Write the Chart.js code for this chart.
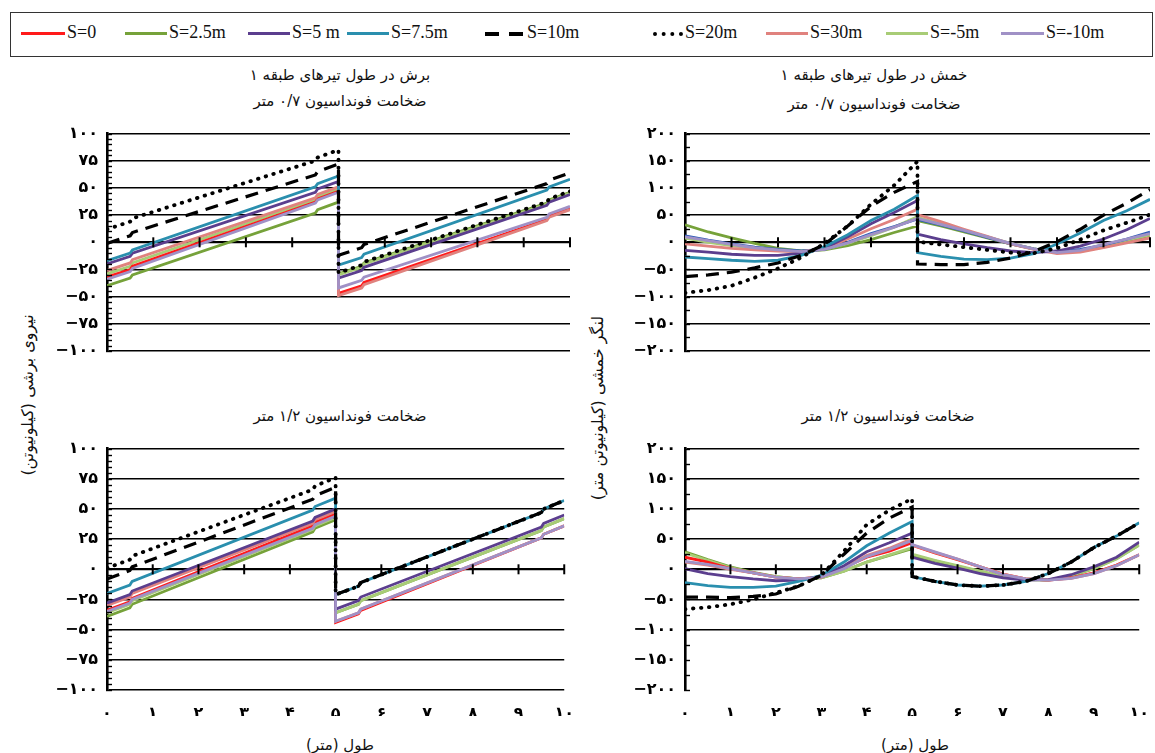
<!DOCTYPE html>
<html>
<head>
<meta charset="utf-8">
<script src="https://cdn.jsdelivr.net/npm/chart.js@4.4.1/dist/chart.umd.min.js"></script>
<style>
  html, body { margin: 0; padding: 0; background: #fff; }
  body { width: 1155px; height: 753px; position: relative; overflow: hidden; }
  canvas { position: absolute; }
  .t { position: absolute; transform: translate(-50%, -50%); white-space: nowrap;
       direction: rtl; font: 15px "DejaVu Sans", sans-serif; color: #111; }
  .rot { transform: translate(-50%, -50%) rotate(-90deg); font-size: 16px; }
  #legend { position: absolute; left: 10px; top: 12px; width: 1141px; height: 43px;
            border: 1.5px solid #333; }
  .lg-line { position: absolute; top: 19px; }
  .lg-text { position: absolute; top: 9px; font: 18px "Liberation Serif", serif; color: #111; }
</style>
</head>
<body>
<div id="legend"></div>

<div class="t" style="left:340px;top:75px">برش در طول تیرهای طبقه ۱</div>
<div class="t" style="left:340px;top:101px">ضخامت فونداسیون ۰/۷ متر</div>
<div class="t" style="left:874px;top:75px">خمش در طول تیرهای طبقه ۱</div>
<div class="t" style="left:874px;top:104px">ضخامت فونداسیون ۰/۷ متر</div>
<div class="t" style="left:340px;top:416px">ضخامت فونداسیون ۱/۲ متر</div>
<div class="t" style="left:888px;top:416px">ضخامت فونداسیون ۱/۲ متر</div>
<div class="t" style="left:340px;top:745px">طول (متر)</div>
<div class="t" style="left:915px;top:745px">طول (متر)</div>
<div class="t rot" style="left:27px;top:395px">نیروی برشی (کیلونیوتن)</div>
<div class="t rot" style="left:597px;top:408px">لنگر خمشی (کیلونیوتن متر)</div>

<canvas id="tl" width="540" height="272" style="left:40px;top:115px"></canvas>
<canvas id="tr" width="535" height="272" style="left:620px;top:115px"></canvas>
<canvas id="bl" width="540" height="290" style="left:40px;top:430px"></canvas>
<canvas id="br" width="535" height="290" style="left:620px;top:430px"></canvas>

<script>
// series (same order in every panel)
const seriesNames = ["S=0", "S=2.5m", "S=5 m", "S=7.5m", "S=10m", "S=20m", "S=30m", "S=-5m", "S=-10m"];

// x positions (m); the beam has a jump at 5 m
const shearX = [0, 0.5, 0.55, 4.5, 4.55, 5, 5, 5.5, 5.55, 9.5, 9.55, 10];
const momentX = [0, 0.5, 1, 1.5, 2, 2.5, 3, 3.5, 4, 4.5, 5, 5, 5.5, 6, 6.5, 7, 7.5, 8, 8.5, 9, 9.5, 10];

const xTickLabels = ["۰", "۱", "۲", "۳", "۴", "۵", "۶", "۷", "۸", "۹", "۱۰"];
const shearTickValues = [-100, -75, -50, -25, 0, 25, 50, 75, 100];
const shearTickText = ["−۱۰۰", "−۷۵", "−۵۰", "−۲۵", "۰", "۲۵", "۵۰", "۷۵", "۱۰۰"];
const momentTickValues = [-200, -150, -100, -50, 0, 50, 100, 150, 200];
const momentTickText = ["−۲۰۰", "−۱۵۰", "−۱۰۰", "−۵۰", "۰", "۵۰", "۱۰۰", "۱۵۰", "۲۰۰"];

// shear force (kN), foundation 0.7 m
const shear07 = [
  [-32, -25, -22, 37, 40, 47, -47, -40, -37, 21, 24, 31],
  [-40, -33, -30, 27, 30, 37, -29, -22, -19, 36, 39, 46],
  [-20, -13, -10, 46, 49, 56, -33, -26, -23, 34, 37, 44],
  [-17, -10, -7, 51, 54, 61, -21, -14, -11, 48, 51, 58],
  [-1, 6, 9, 62, 65, 72, -12, -5, -2, 54, 57, 64],
  [12, 19, 22, 75, 78, 85, -28, -21, -18, 37, 40, 47],
  [-26, -19, -16, 41, 44, 51, -49, -42, -39, 20, 23, 30],
  [-29, -22, -19, 39, 42, 49, -30, -23, -20, 35, 38, 45],
  [-34, -27, -24, 36, 39, 46, -42, -35, -32, 23, 26, 33],
];

// shear force (kN), foundation 1.2 m
const shear12 = [
  [-34, -27, -24, 36, 39, 46, -44, -37, -34, 26, 29, 36],
  [-39, -32, -29, 31, 34, 41, -36, -29, -26, 32, 35, 42],
  [-28, -21, -18, 40, 43, 50, -33, -26, -23, 35, 38, 45],
  [-20, -13, -10, 49, 52, 59, -21, -14, -11, 47, 50, 57],
  [-8, -1, 2, 58, 61, 68, -21, -14, -11, 47, 50, 57],
  [1, 8, 11, 66, 69, 76, -21, -14, -11, 47, 50, 57],
  [-30, -23, -20, 38, 41, 48, -43, -36, -33, 26, 29, 36],
  [-36, -29, -26, 33, 36, 43, -36, -29, -26, 32, 35, 42],
  [-35, -28, -25, 34, 37, 44, -43, -36, -33, 26, 29, 36],
];

// bending moment (kN.m), foundation 0.7 m
const moment07 = [
  [12, 4, -3, -9, -13, -16, -13, 0, 16, 29, 43, 42, 32, 21, 9, -3, -12, -18, -13, -5, 6, 19],
  [32, 19, 8, -2, -11, -16, -14, -6, 5, 18, 30, 40, 30, 19, 8, -3, -12, -19, -16, -9, 1, 13],
  [-15, -18, -22, -24, -24, -20, -11, 10, 34, 55, 77, 15, 5, -3, -10, -16, -19, -16, -7, 6, 23, 44],
  [-27, -30, -33, -35, -33, -24, -8, 14, 40, 61, 86, -19, -26, -31, -32, -29, -21, -3, 17, 40, 58, 79],
  [-63, -60, -55, -47, -38, -24, -4, 30, 66, 92, 112, -40, -41, -41, -37, -29, -17, 1, 24, 50, 72, 97],
  [-93, -88, -80, -65, -48, -28, -2, 30, 70, 105, 149, 1, -4, -9, -14, -19, -20, -11, 5, 22, 36, 51],
  [-3, -7, -11, -14, -16, -17, -12, 6, 25, 42, 61, 51, 38, 24, 11, -3, -13, -21, -18, -10, -1, 8],
  [8, 0, -6, -11, -15, -17, -13, -2, 12, 28, 47, 46, 34, 22, 10, -2, -12, -19, -15, -6, 4, 14],
  [10, 3, -4, -10, -14, -17, -13, -1, 14, 28, 44, 44, 33, 22, 10, -2, -12, -19, -15, -4, 6, 16],
];

// bending moment (kN.m), foundation 1.2 m
const moment12 = [
  [20, 12, 1, -6, -13, -16, -13, 3, 20, 30, 44, 40, 27, 16, 4, -8, -16, -18, -14, -6, 7, 24],
  [29, 16, 4, -5, -12, -16, -14, -3, 12, 23, 34, 23, 14, 5, -4, -12, -17, -18, -11, 1, 18, 40],
  [1, -7, -12, -16, -19, -18, -12, 6, 29, 44, 60, 20, 10, 2, -7, -14, -18, -17, -9, 4, 20, 45],
  [-22, -27, -30, -30, -28, -20, -10, 12, 39, 60, 79, -12, -20, -26, -28, -26, -20, -7, 12, 36, 55, 77],
  [-46, -46, -47, -45, -41, -28, -10, 25, 60, 85, 103, -12, -20, -26, -28, -26, -20, -7, 12, 36, 55, 77],
  [-66, -63, -58, -50, -39, -28, -10, 30, 74, 98, 117, -12, -20, -26, -28, -26, -20, -7, 12, 36, 55, 77],
  [12, 7, 0, -6, -13, -16, -13, 2, 23, 35, 51, 40, 28, 17, 4, -8, -16, -18, -15, -7, 6, 24],
  [27, 15, 3, -6, -12, -16, -14, -3, 12, 24, 36, 25, 15, 6, -3, -11, -16, -18, -10, 1, 17, 40],
  [13, 8, 1, -6, -13, -16, -13, 1, 21, 33, 48, 41, 29, 17, 4, -9, -16, -18, -15, -7, 6, 24],
];

// styles
const seriesColors = ["#ff1a1a", "#76a23a", "#5b3e8e", "#2a8fae", "#000000", "#000000", "#e0827e", "#a8cc76", "#a091c6"];
const seriesDash = [[], [], [], [], [13, 8], [0.5, 7.5], [], [], []];
const seriesWidth = [2.8, 2.8, 2.8, 2.8, 3.2, 3.8, 2.8, 2.8, 2.8];
const seriesOrder = [6, 8, 4, 3, 1, 0, 5, 7, 2];
const legendLeft = [10, 114, 237, 336, 474, 642, 755, 875, 990];
const legendLen = [44, 42, 42, 42, 40, 30, 42, 42, 43];

// legend box
const legend = document.getElementById("legend");
seriesNames.forEach((name, i) => {
  const line = document.createElement("div");
  line.className = "lg-line";
  line.style.left = legendLeft[i] + "px";
  line.style.width = legendLen[i] + "px";
  if (i === 4) {
    line.style.height = "4px";
    line.style.background = "repeating-linear-gradient(90deg, #000 0 14px, transparent 14px 24px)";
  } else if (i === 5) {
    line.style.height = "0";
    line.style.borderTop = "4px dotted #000";
  } else {
    line.style.height = "3px";
    line.style.background = seriesColors[i];
  }
  legend.appendChild(line);
  const txt = document.createElement("div");
  txt.className = "lg-text";
  txt.style.left = legendLeft[i] + legendLen[i] + 2 + "px";
  txt.textContent = name;
  legend.appendChild(txt);
});

const panelDecor = {
  id: "panelDecor",
  afterDatasetsDraw(chart, args, opts) {
    const { ctx, chartArea } = chart;
    const x = chart.scales.x;
    const y = chart.scales.y;
    ctx.save();
    ctx.strokeStyle = "#000";
    // minor marks on the vertical axis
    ctx.lineWidth = 1.4;
    for (let v = y.min; v <= y.max; v += opts.minorStep) {
      const py = Math.round(y.getPixelForValue(v)) + 0.5;
      ctx.beginPath();
      ctx.moveTo(chartArea.left - 1, py);
      ctx.lineTo(chartArea.left + 5, py);
      ctx.stroke();
    }
    // marks on the zero line at every metre
    ctx.lineWidth = 2;
    const y0 = y.getPixelForValue(0);
    for (let m = 1; m <= 10; m++) {
      const px = x.getPixelForValue(m);
      ctx.beginPath();
      ctx.moveTo(px, y0 - 5);
      ctx.lineTo(px, y0 + 5);
      ctx.stroke();
    }
    ctx.restore();
  },
};

const tickFont = { family: "DejaVu Sans", size: 16, weight: "bold" };

function buildPanel(id, xs, rows, cfg) {
  const datasets = rows.map((vals, i) => ({
    label: seriesNames[i],
    data: xs.map((xv, j) => ({ x: xv, y: vals[j] })),
    borderColor: (cfg.colorSwap && cfg.colorSwap[i]) || seriesColors[i],
    borderWidth: seriesWidth[i],
    borderDash: seriesDash[i],
    borderCapStyle: i === 5 ? "round" : "butt",
    pointRadius: 0,
    tension: 0,
    fill: false,
    order: seriesOrder[i],
  }));

  return new Chart(document.getElementById(id), {
    type: "line",
    data: { datasets },
    options: {
      responsive: false,
      animation: false,
      devicePixelRatio: 1,
      layout: { padding: { top: 10, right: cfg.padRight, bottom: cfg.padBottom, left: 0 } },
      plugins: {
        legend: { display: false },
        tooltip: { enabled: false },
        panelDecor: { minorStep: cfg.minorStep },
      },
      scales: {
        x: {
          type: "linear",
          min: 0,
          max: 10,
          display: cfg.showX,
          afterFit: (s) => { s.height = 26; },
          ticks: {
            stepSize: 1,
            color: "#000",
            padding: 6,
            font: tickFont,
            callback: (v) => xTickLabels[v],
          },
          grid: { display: false },
          border: { display: false },
        },
        y: {
          min: cfg.tickValues[0],
          max: cfg.tickValues[cfg.tickValues.length - 1],
          afterFit: (s) => { s.width = cfg.axisWidth; },
          ticks: {
            stepSize: cfg.step,
            color: "#000",
            padding: 9,
            font: tickFont,
            callback: (v) => cfg.tickText[cfg.tickValues.indexOf(v)],
          },
          grid: {
            drawTicks: false,
            color: (c) => (cfg.hideGrid && cfg.hideGrid.includes(c.tick.value) ? "rgba(0,0,0,0)" : "#000"),
            lineWidth: (c) => (c.tick.value === 0 ? 2.2 : 1.4),
          },
          border: { display: true, color: "#000", width: 2.6 },
        },
      },
    },
    plugins: [panelDecor],
  });
}

buildPanel("tl", shearX, shear07, {
  tickValues: shearTickValues, tickText: shearTickText, step: 25, minorStep: 5,
  axisWidth: 67, padRight: 10, padBottom: 10, showX: false,
});
buildPanel("tr", momentX, moment07, {
  tickValues: momentTickValues, tickText: momentTickText, step: 50, minorStep: 25,
  axisWidth: 65, padRight: 5, padBottom: 10, showX: false,
  colorSwap: { 0: "#2d5cb6" },
});
buildPanel("bl", shearX, shear12, {
  tickValues: shearTickValues, tickText: shearTickText, step: 25, minorStep: 5,
  axisWidth: 67, padRight: 10, padBottom: 4, showX: true,
});
buildPanel("br", momentX, moment12, {
  tickValues: momentTickValues, tickText: momentTickText, step: 50, minorStep: 25,
  axisWidth: 65, padRight: 8, padBottom: 4, showX: true,
  hideGrid: [-150, -200],
});
</script>
</body>
</html>
